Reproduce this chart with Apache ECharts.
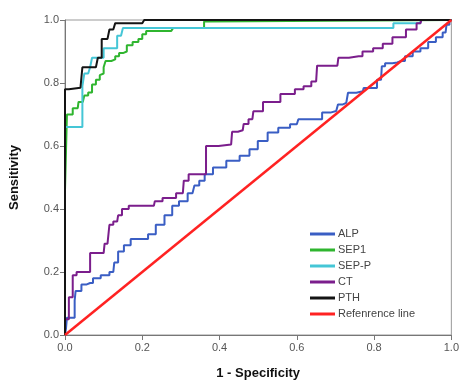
<!DOCTYPE html>
<html>
<head>
<meta charset="utf-8">
<script src="https://cdn.jsdelivr.net/npm/echarts@6/dist/echarts.min.js"></script>
<style>
html,body{margin:0;padding:0;background:#fff;}
#chart{width:462px;height:385px;}
</style>
</head>
<body>
<div id="chart"></div>
<script>
// ---- Data (1 - Specificity, Sensitivity) ----
const seriesNames = ['ALP', 'SEP1', 'SEP-P', 'CT', 'PTH', 'Refenrence line'];
const xTicks = [0.0, 0.2, 0.4, 0.6, 0.8, 1.0];
const yTicks = [0.0, 0.2, 0.4, 0.6, 0.8, 1.0];

const ALP = [[0,0],[0.005,0.02],[0.005,0.055],[0.025,0.055],[0.025,0.11],[0.03,0.14],[0.04,0.14],[0.045,0.16],
  [0.065,0.165],[0.08,0.18],[0.105,0.19],[0.125,0.2],[0.13,0.23],[0.145,0.265],[0.16,0.285],[0.18,0.305],
  [0.205,0.305],[0.225,0.32],[0.245,0.35],[0.27,0.38],[0.285,0.41],[0.305,0.425],[0.33,0.45],[0.34,0.475],
  [0.355,0.49],[0.368,0.51],[0.398,0.532],[0.437,0.553],[0.467,0.569],[0.488,0.59],[0.51,0.616],[0.539,0.643],
  [0.565,0.658],[0.6,0.669],[0.608,0.685],[0.659,0.685],[0.672,0.706],[0.702,0.711],[0.711,0.732],[0.728,0.737],
  [0.737,0.769],[0.771,0.774],[0.775,0.784],[0.797,0.784],[0.818,0.81],[0.822,0.853],[0.835,0.863],[0.86,0.865],
  [0.87,0.87],[0.89,0.885],[0.91,0.9],[0.93,0.91],[0.95,0.93],[0.97,0.945],[0.985,0.96],[0.99,0.985],[1,1]];

const SEP1 = [[0,0],[0,0.46],[0.005,0.46],[0.005,0.7],[0.02,0.705],[0.02,0.72],[0.033,0.726],[0.035,0.74],
  [0.046,0.742],[0.05,0.76],[0.06,0.77],[0.07,0.77],[0.07,0.795],[0.08,0.8],[0.08,0.81],[0.09,0.825],
  [0.095,0.83],[0.1,0.85],[0.105,0.87],[0.12,0.875],[0.13,0.885],[0.14,0.895],[0.15,0.9],[0.16,0.92],
  [0.175,0.93],[0.19,0.94],[0.2,0.955],[0.21,0.965],[0.275,0.965],[0.28,0.975],[0.35,0.975],[0.36,0.995],
  [0.37,1],[1,1]];

const SEPP = [[0,0],[0,0.66],[0.045,0.66],[0.045,0.79],[0.05,0.79],[0.05,0.83],[0.06,0.83],[0.065,0.85],
  [0.07,0.88],[0.1,0.88],[0.1,0.91],[0.135,0.91],[0.135,0.95],[0.145,0.95],[0.15,0.975],[0.85,0.975],
  [0.85,0.99],[0.91,0.99],[0.92,1],[1,1]];

const CT = [[0,0],[0,0.05],[0.01,0.05],[0.01,0.12],[0.02,0.12],[0.02,0.19],[0.04,0.2],[0.065,0.2],
  [0.065,0.26],[0.1,0.26],[0.105,0.29],[0.115,0.29],[0.115,0.35],[0.135,0.36],[0.14,0.38],[0.155,0.4],
  [0.175,0.41],[0.23,0.41],[0.235,0.425],[0.27,0.435],[0.305,0.45],[0.31,0.49],[0.33,0.51],[0.365,0.51],
  [0.365,0.6],[0.43,0.605],[0.435,0.645],[0.46,0.65],[0.465,0.67],[0.485,0.685],[0.49,0.71],[0.535,0.74],
  [0.58,0.765],[0.61,0.78],[0.625,0.79],[0.65,0.805],[0.655,0.855],[0.705,0.855],[0.71,0.88],[0.76,0.885],
  [0.78,0.9],[0.815,0.91],[0.83,0.925],[0.865,0.945],[0.9,0.97],[0.92,0.99],[0.925,1],[1,1]];

const PTH = [[0,0],[0,0.78],[0.01,0.785],[0.04,0.79],[0.045,0.85],[0.08,0.85],[0.085,0.88],[0.095,0.88],
  [0.095,0.94],[0.11,0.94],[0.115,0.97],[0.125,0.975],[0.13,0.99],[0.2,0.99],[0.205,1],[1,1]];

const REF = [[0,0],[1,1]];

const colors = ['#3a5ec4', '#2fb52f', '#45c6d6', '#7b1e8c', '#141414', '#ff2222'];
const steps = ['middle', 'end', 'end', 'middle', 'end', false];
const allData = [ALP, SEP1, SEPP, CT, PTH, REF];

const chart = echarts.init(document.getElementById('chart'), null, {renderer: 'canvas'});

const series = seriesNames.map((name, i) => ({
  name: name,
  type: 'line',
  data: allData[i],
  showSymbol: false,
  symbol: 'none',
  step: steps[i],
  lineStyle: {color: colors[i], width: i === 5 ? 2.5 : 2},
  itemStyle: {color: colors[i]},
  animation: false
}));

const axisCommon = {
  type: 'value',
  min: 0,
  max: 1,
  interval: 0.2,
  nameLocation: 'middle',
  nameTextStyle: {fontFamily: 'Liberation Sans, Arial', fontWeight: 'bold', fontSize: 13, color: '#111'},
  axisLine: {show: true, lineStyle: {color: '#777', width: 1}},
  axisTick: {show: true, inside: false, length: 5, lineStyle: {color: '#777'}},
  axisLabel: {fontFamily: 'Liberation Sans, Arial', fontSize: 11, color: '#555',
    formatter: v => v.toFixed(1)},
  splitLine: {show: false}
};

chart.setOption({
  backgroundColor: '#fff',
  animation: false,
  grid: {left: 64, top: 20, width: 389, height: 317, show: true, borderColor: '#999', borderWidth: 1},
  xAxis: Object.assign({}, axisCommon, {name: '1 - Specificity', nameGap: 32,
    axisLabel: Object.assign({}, axisCommon.axisLabel, {margin: 7})}),
  yAxis: Object.assign({}, axisCommon, {name: 'Sensitivity', nameGap: 44,
    axisLabel: Object.assign({}, axisCommon.axisLabel, {margin: 6})}),
  legend: {
    orient: 'vertical',
    left: 305,
    top: 223,
    icon: 'rect',
    itemWidth: 25,
    itemHeight: 3,
    itemGap: 4,
    data: seriesNames,
    textStyle: {fontFamily: 'Liberation Sans, Arial', fontSize: 11, color: '#444', lineHeight: 12, padding: [0, 0, 0, -2]}
  },
  series: series
});
</script>
</body>
</html>
